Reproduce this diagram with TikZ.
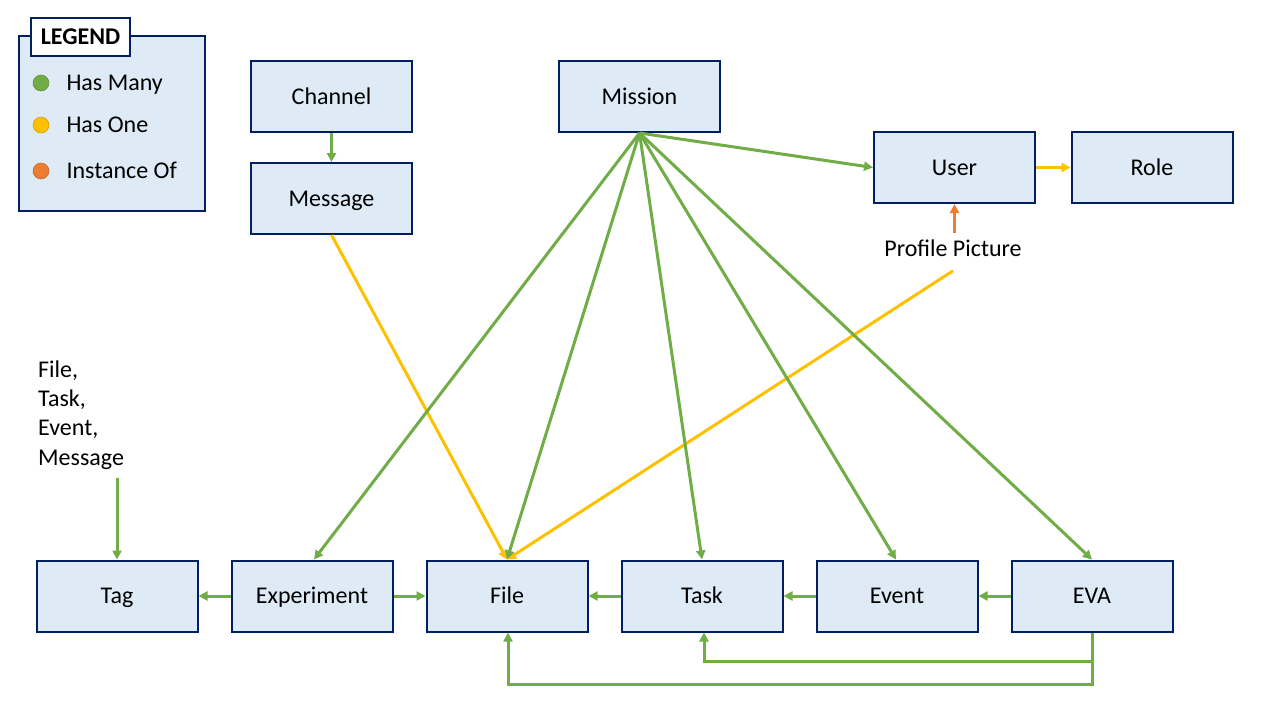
\documentclass[tikz,border=0pt]{standalone}
\usepackage{fontspec}
\setmainfont{Carlito}
\usetikzlibrary{arrows.meta}
\definecolor{boxfill}{HTML}{DEEBF7}
\definecolor{boxline}{HTML}{002060}
\definecolor{cgreen}{HTML}{70AD47}
\definecolor{cyellow}{HTML}{FFC000}
\definecolor{corange}{HTML}{ED7D31}
\begin{document}
\begin{tikzpicture}[x=1pt,y=-1pt,
  every node/.style={font=\fontsize{24}{29.3}\selectfont},
  ctext/.style={text height=20pt,text depth=4.5pt},
  entity/.style={draw=boxline,fill=boxfill,line width=2pt,minimum width=161pt,minimum height=71pt,inner sep=0pt,ctext},
  many/.style={draw=cgreen,line width=3pt,-{Triangle[length=9pt,width=9pt]}},
  one/.style={draw=cyellow,line width=3pt,-{Triangle[length=9pt,width=9pt]}},
  inst/.style={draw=corange,line width=3pt,-{Triangle[length=9pt,width=9pt]}},
  dot/.style={circle,minimum size=16pt,inner sep=0pt,draw=#1!80!black,line width=0.5pt,fill=#1}
]
\useasboundingbox (0,0) rectangle (1280,720);
% legend
\node[draw=boxline,fill=boxfill,line width=2pt,minimum width=186pt,minimum height=175pt,inner sep=0pt] (legend) at (112,123.5) {};
\node[draw=boxline,fill=white,line width=2pt,minimum width=99pt,minimum height=38pt,inner sep=0pt,ctext,font=\fontsize{24}{29}\selectfont\bfseries] (legendtitle) at (80.5,37) {LEGEND};
\node[dot=cgreen] (d1) at (41,83) {};
\node[dot=cyellow] (d2) at (41,125) {};
\node[dot=corange] (d3) at (41,171) {};
\node[anchor=west,ctext] (l1) at (63,83) {Has Many};
\node[anchor=west,ctext] (l2) at (63,125) {Has One};
\node[anchor=west,ctext] (l3) at (63,171) {Instance Of};
% entities
\node[entity] (channel) at (331.5,96.5) {Channel};
\node[entity] (message) at (331.5,198.5) {Message};
\node[entity] (mission) at (639.5,96.5) {Mission};
\node[entity] (user) at (954.5,167.5) {User};
\node[entity] (role) at (1152,167.5) {Role};
\node[entity] (tag) at (117,596) {Tag};
\node[entity] (experiment) at (312,596) {Experiment};
\node[entity] (file) at (507,596) {File};
\node[entity] (task) at (702,596) {Task};
\node[entity] (event) at (897,596) {Event};
\node[entity] (eva) at (1092,596) {EVA};
% free texts
\node[ctext] (profile) at (953,249) {Profile Picture};
\node[anchor=base west,align=left,inner sep=0pt] (tagsrc) at (38,465) {File,\\Task,\\Event,\\Message};
\coordinate (tagsrcb) at (117,478);
% connectors
\draw[many] (channel.south) -- (message.north);
\draw[one] (message.south) -- (file.north);
\draw[inst] (profile.north -| user.south) -- (user.south);
\draw[one] (profile.south) ++(0,6) -- (file.north);
\draw[many] (mission.south) -- (user.west);
\draw[one] (user.east) -- (role.west);
\draw[many] (mission.south) -- ([xshift=2pt]experiment.north);
\draw[many] (mission.south) -- (file.north);
\draw[many] (mission.south) -- (task.north);
\draw[many] (mission.south) -- ([xshift=-1pt]event.north);
\draw[many] (mission.south) -- (eva.north);
\draw[many] (tagsrcb) -- (tag.north);
\draw[many] (experiment.west) -- (tag.east);
\draw[many] (experiment.east) -- (file.west);
\draw[many] (task.west) -- (file.west -| file.east);
\draw[many] (event.west) -- (task.east);
\draw[many] (eva.west) -- (event.east);
\draw[many] (eva.south) -- ++(0,29) -| ([xshift=2pt]task.south);
\draw[many] (eva.south) -- ++(0,52) -| ([xshift=1pt]file.south);
\end{tikzpicture}
\end{document}
